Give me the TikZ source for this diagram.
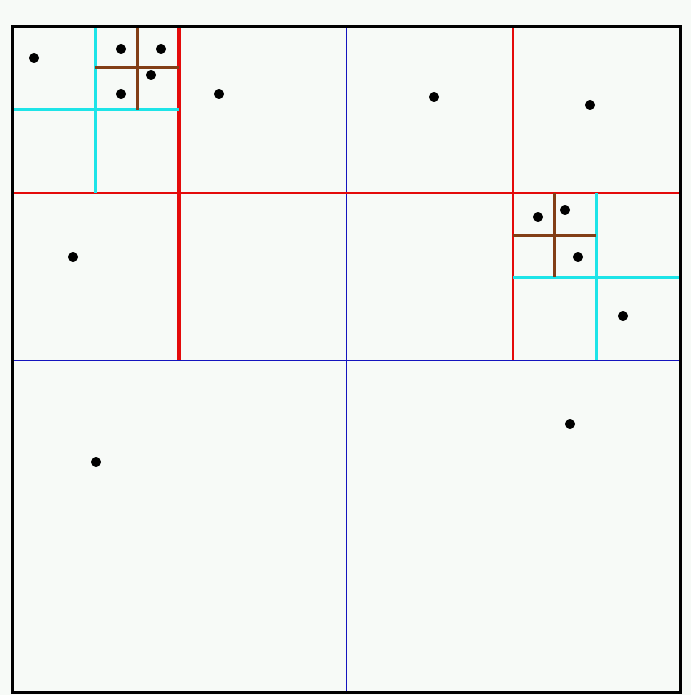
\documentclass[tikz,border=0pt]{standalone}
\usepackage[dvipsnames,rgb]{xcolor}
\usepackage{tikz}
\definecolor{paper}{RGB}{247,250,247}
\definecolor{qred}{RGB}{228,10,10}
\definecolor{qblue}{RGB}{20,20,190}
\definecolor{qcyan}{RGB}{30,228,232}
\definecolor{qbrown}{RGB}{130,62,22}

\begin{document}
\begin{tikzpicture}[x=1pt, y=-1pt,
    level1/.style={qblue, line width=1pt},
    level2/.style={qred, line width=2.5pt},
    level3/.style={qcyan, line width=3pt},
    level4/.style={qbrown, line width=3pt},
    pt/.style={circle, fill=black, inner sep=0pt, minimum size=10pt}]
        % Canvas
        \fill[paper] (0,0) rectangle (691,695);
        \useasboundingbox (0,0) rectangle (691,695);

        % Corners
        \coordinate (tl) at (12,27);
        \coordinate (br) at (680,692);

        % Level 1
        \draw[level1] (346,27) -- (346,692);
        \draw[level1] (12,360) -- (680,360);

        % Level 2
        \draw[level2] (12,193) -- (680,193);
        \draw[level2, line width=3.2pt] (179,27) -- (179,360);
        \draw[level2] (513,27) -- (513,360);

        % Level 3
        \draw[level3] (95,27) -- (95,193);
        \draw[level3] (12,110) -- (179,110);
        \draw[level3] (596,193) -- (596,360);
        \draw[level3] (513,277) -- (680,277);

        % Level 4
        \draw[level4] (137,27) -- (137,110);
        \draw[level4] (95,68) -- (179,68);
        \draw[level4] (554,193) -- (554,277);
        \draw[level4] (513,235) -- (596,235);

        % Border
        \draw[black, line width=3pt] (tl) rectangle (br);

        % Points
        \foreach \px/\py [count=\i] in {34/58, 121/49, 161/49, 151/75, 121/94,
                219/94, 434/97, 590/105, 73/257, 538/217, 565/210,
                578/257, 623/316, 96/462, 570/424}
            \node[pt] (p\i) at (\px,\py) {};
    \end{tikzpicture}
\end{document}
